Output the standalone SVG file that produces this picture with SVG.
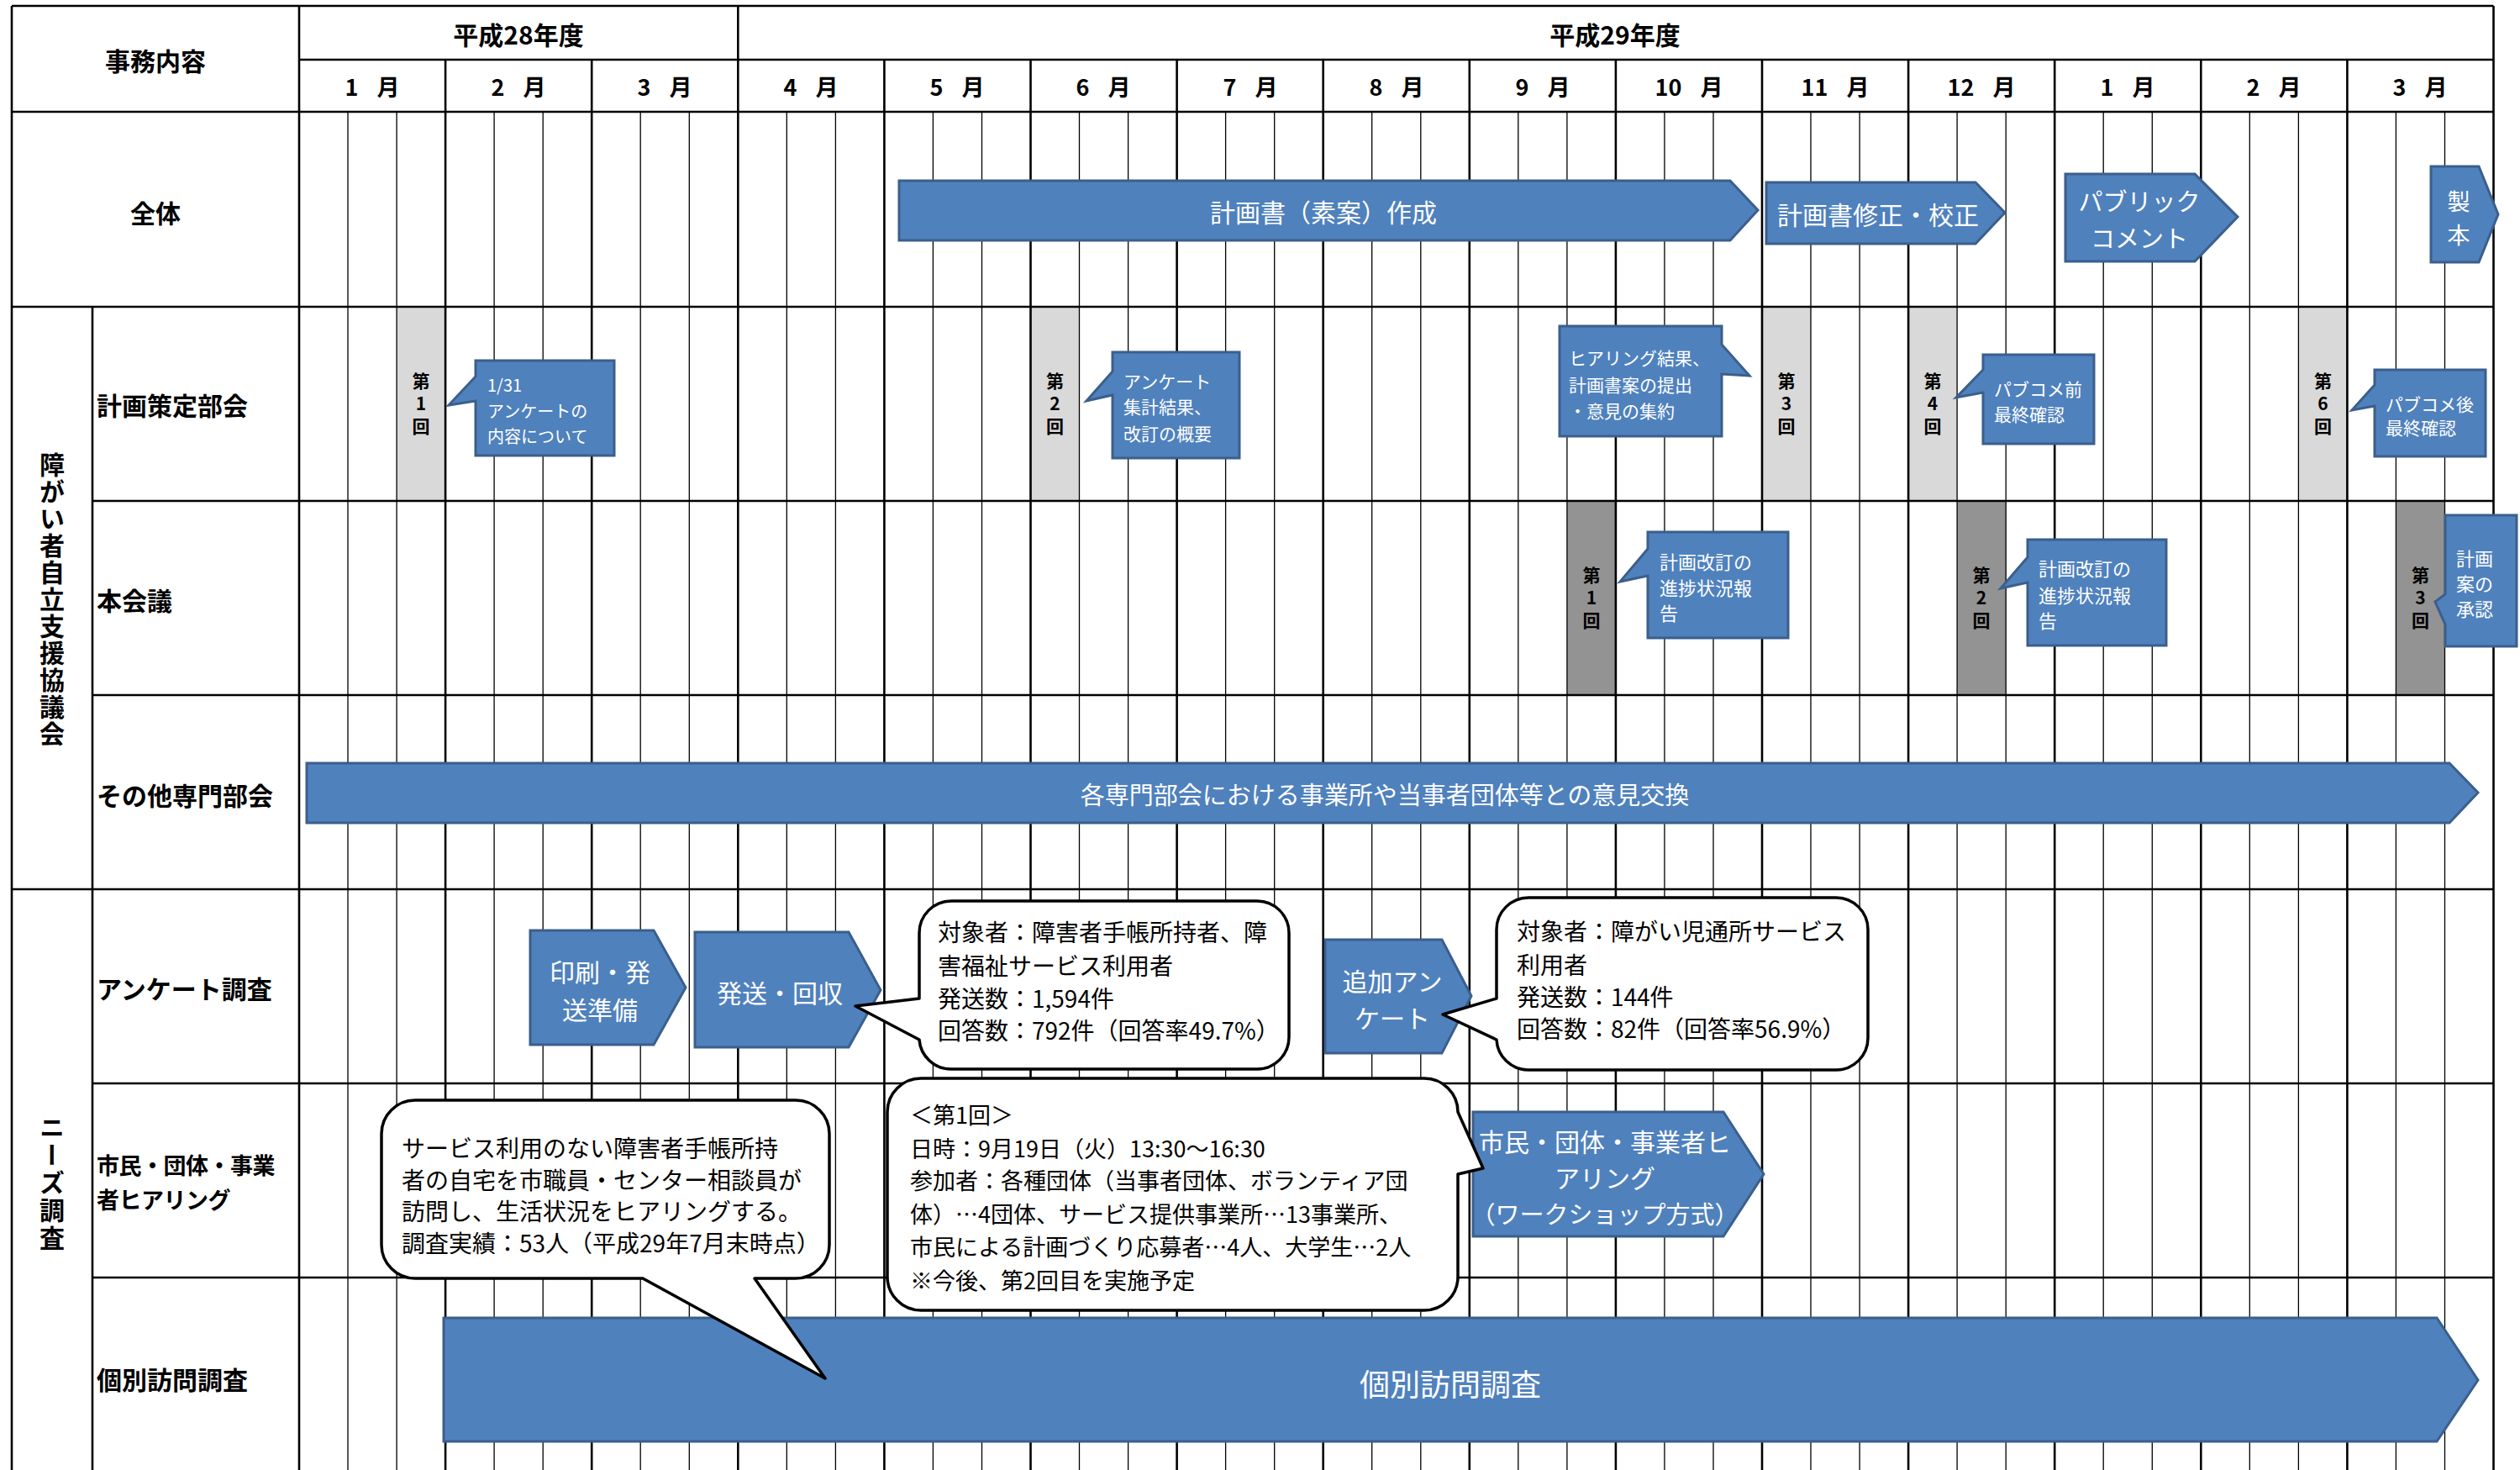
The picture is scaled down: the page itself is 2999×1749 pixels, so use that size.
<svg xmlns="http://www.w3.org/2000/svg" width="2999" height="1749" viewBox="0 0 2999 1749">
<defs><style>
text{font-family:"Noto Sans CJK JP","Noto Sans CJK SC",sans-serif;dominant-baseline:central}
.b{font-weight:bold;fill:#000}
.w{fill:#fff}
.k{fill:#000}
.m{text-anchor:middle}
.v{writing-mode:vertical-rl;text-orientation:upright;text-anchor:middle;font-weight:bold;fill:#000;font-size:21px;letter-spacing:6px}
.bar{fill:#4f81bd;stroke:#3b5f8c;stroke-width:3}
.rc{fill:#fff;stroke:#000;stroke-width:3.5;stroke-linejoin:round}
.lg{fill:#d9d9d9}
.dg{fill:#939393}
.sub{stroke:#000;stroke-width:1.3;fill:none}
.main{stroke:#000;stroke-width:2.6;fill:none}
</style></defs>
<rect x="0" y="0" width="2999" height="1749" fill="#fff"/>

<g id="session-cells">
<rect class="lg" x="472.1" y="365" width="58" height="231"/>
<rect class="lg" x="1226.5" y="365" width="58" height="231"/>
<rect class="lg" x="2097" y="365" width="58" height="231"/>
<rect class="lg" x="2271.1" y="365" width="58" height="231"/>
<rect class="lg" x="2735.4" y="365" width="58" height="231"/>
<rect class="dg" x="1864.9" y="596" width="58" height="231"/>
<rect class="dg" x="2329.1" y="596" width="58" height="231"/>
<rect class="dg" x="2851.4" y="596" width="58" height="231"/>
</g>

<g id="grid">
<path class="sub" d="M414,133V1749M472.1,133V1749M588.1,133V1749M646.2,133V1749M762.2,133V1749M820.3,133V1749M936.3,133V1749M994.4,133V1749M1110.4,133V1749M1168.5,133V1749M1284.5,133V1749M1342.6,133V1749M1458.6,133V1749M1516.7,133V1749M1632.7,133V1749M1690.8,133V1749M1806.8,133V1749M1864.9,133V1749M1980.9,133V1749M2039,133V1749M2155,133V1749M2213.1,133V1749M2329.1,133V1749M2387.2,133V1749M2503.2,133V1749M2561.3,133V1749M2677.3,133V1749M2735.4,133V1749M2851.4,133V1749M2909.5,133V1749"/>
<path class="main" d="M530.1,71V1749M704.2,71V1749M1052.4,71V1749M1226.5,71V1749M1400.6,71V1749M1574.7,71V1749M1748.8,71V1749M1922.9,71V1749M2097,71V1749M2271.1,71V1749M2445.2,71V1749M2619.3,71V1749M2793.4,71V1749"/>
<path class="main" d="M14,7V1749M110,365V1749M356,7V1749M878.3,7V1749M2967.5,7V1749"/>
<path class="main" d="M14,7H2967.5M356,71H2967.5M14,133H2967.5M14,365H2967.5M110,596H2967.5M110,827H2967.5M14,1058H2967.5M110,1289H2967.5M110,1520H2967.5"/>
</g>

<g id="header">
<text class="b m" x="185" y="71" font-size="30">事務内容</text>
<text class="b m" x="617" y="40" font-size="30">平成28年度</text>
<text class="b m" x="1922" y="40" font-size="30">平成29年度</text>
<g class="b m" font-size="27" word-spacing="16">
<text class="b m" x="443" y="102">1 月</text>
<text class="b m" x="617" y="102">2 月</text>
<text class="b m" x="791" y="102">3 月</text>
<text class="b m" x="965" y="102">4 月</text>
<text class="b m" x="1139" y="102">5 月</text>
<text class="b m" x="1313" y="102">6 月</text>
<text class="b m" x="1488" y="102">7 月</text>
<text class="b m" x="1662" y="102">8 月</text>
<text class="b m" x="1836" y="102">9 月</text>
<text class="b m" x="2010" y="102">10 月</text>
<text class="b m" x="2184" y="102">11 月</text>
<text class="b m" x="2358" y="102">12 月</text>
<text class="b m" x="2532" y="102">1 月</text>
<text class="b m" x="2706" y="102">2 月</text>
<text class="b m" x="2880" y="102">3 月</text>
</g>
</g>

<g id="row-labels" font-size="30">
<text class="b m" x="185" y="252">全体</text>
<text class="b m" x="62" y="714" writing-mode="vertical-rl" letter-spacing="2">障がい者自立支援協議会</text>
<text class="b" x="115" y="481">計画策定部会</text>
<text class="b" x="115" y="713">本会議</text>
<text class="b" x="115" y="945">その他専門部会</text>
<text class="b m" x="62" y="1408" writing-mode="vertical-rl" letter-spacing="3">ニーズ調査</text>
<text class="b" x="115" y="1175">アンケート調査</text>
<text class="b" x="115" y="1385" font-size="27" letter-spacing="-0.5">市民・団体・事業</text>
<text class="b" x="115" y="1426" font-size="27" letter-spacing="-0.5">者ヒアリング</text>
<text class="b" x="115" y="1640">個別訪問調査</text>
</g>

<g id="session-labels">
<text class="v" x="501" y="483">第1回</text>
<text class="v" x="1255.5" y="483">第2回</text>
<text class="v" x="2126" y="483">第3回</text>
<text class="v" x="2300" y="483">第4回</text>
<text class="v" x="2764.4" y="483">第6回</text>
<text class="v" x="1894" y="714">第1回</text>
<text class="v" x="2358" y="714">第2回</text>
<text class="v" x="2880.4" y="714">第3回</text>
</g>

<g id="node-keikakusho">
<path class="bar" d="M1070,215H2059L2092,250L2059,286H1070Z"/>
<text class="w m" x="1575" y="251" font-size="30">計画書（素案）作成</text>
</g>
<g id="node-shusei">
<path class="bar" d="M2102,217H2351L2386,253L2351,290H2102Z"/>
<text class="w m" x="2235" y="254" font-size="30">計画書修正・校正</text>
</g>
<g id="node-pubcom">
<path class="bar" d="M2458,207H2612L2663,258L2612,311H2458Z"/>
<text class="w m" x="2546" y="238" font-size="29">パブリック</text>
<text class="w m" x="2546" y="282" font-size="29">コメント</text>
</g>
<g id="node-seihon">
<path class="bar" d="M2893,198H2950L2973,255L2950,312H2893Z"/>
<text class="w m" x="2926" y="238" font-size="27">製</text>
<text class="w m" x="2926" y="278" font-size="27">本</text>
</g>

<g id="node-bukai1" font-size="20">
<path class="bar" d="M566,429H731V542H566V477L534,482L566,448Z"/>
<text class="w" x="580" y="457">1/31</text>
<text class="w" x="580" y="488">アンケートの</text>
<text class="w" x="580" y="518">内容について</text>
</g>
<g id="node-bukai2" font-size="21">
<path class="bar" d="M1324,419H1475V545H1324V470L1293,477L1324,442Z"/>
<text class="w" x="1337" y="453">アンケート</text>
<text class="w" x="1337" y="483">集計結果、</text>
<text class="w" x="1337" y="515">改訂の概要</text>
</g>
<g id="node-hearing-result" font-size="21">
<path class="bar" d="M1856,388H2049V410L2082,447L2049,445V519H1856Z"/>
<text class="w" x="1867" y="425">ヒアリング結果、</text>
<text class="w" x="1867" y="457">計画書案の提出</text>
<text class="w" x="1867" y="488">・意見の集約</text>
</g>
<g id="node-bukai4" font-size="21">
<path class="bar" d="M2360,422H2492V528H2360V467L2328,473L2360,440Z"/>
<text class="w" x="2373" y="462">パブコメ前</text>
<text class="w" x="2373" y="492">最終確認</text>
</g>
<g id="node-bukai6" font-size="21">
<path class="bar" d="M2826,440H2958V543H2826V483L2799,488L2826,458Z"/>
<text class="w" x="2839" y="480">パブコメ後</text>
<text class="w" x="2839" y="508">最終確認</text>
</g>

<g id="node-honkai1" font-size="22">
<path class="bar" d="M1961,633H2128V759H1961V685L1928,692L1961,653Z"/>
<text class="w" x="1975" y="667">計画改訂の</text>
<text class="w" x="1975" y="698">進捗状況報</text>
<text class="w" x="1975" y="728">告</text>
</g>
<g id="node-honkai2" font-size="22">
<path class="bar" d="M2413,642H2578V768H2413V693L2381,700L2413,663Z"/>
<text class="w" x="2426" y="675">計画改訂の</text>
<text class="w" x="2426" y="707">進捗状況報</text>
<text class="w" x="2426" y="737">告</text>
</g>
<g id="node-honkai3" font-size="22">
<path class="bar" d="M2910,613H2995V769H2910V743L2898,716L2910,707Z"/>
<text class="w" x="2923" y="663">計画</text>
<text class="w" x="2923" y="693">案の</text>
<text class="w" x="2923" y="723">承認</text>
</g>

<g id="node-sonota">
<path class="bar" d="M365,908H2915L2949,943L2915,979H365Z"/>
<text class="w m" x="1648" y="944" font-size="29">各専門部会における事業所や当事者団体等との意見交換</text>
</g>

<g id="node-insatsu" font-size="30">
<path class="bar" d="M631,1107H778L816,1175L778,1243H631Z"/>
<text class="w m" x="714" y="1155">印刷・発</text>
<text class="w m" x="714" y="1200">送準備</text>
</g>
<g id="node-hassou" font-size="30">
<path class="bar" d="M827,1109H1010L1048,1178L1010,1246H827Z"/>
<text class="w m" x="928" y="1180">発送・回収</text>
</g>
<g id="node-tsuika" font-size="30">
<path class="bar" d="M1577,1118H1716L1751,1185L1716,1253H1577Z"/>
<text class="w m" x="1657" y="1166">追加アン</text>
<text class="w m" x="1657" y="1210">ケート</text>
</g>

<g id="node-survey1" font-size="28">
<path class="rc" d="M1132,1072H1496A38,38 0 0 1 1534,1110V1234A38,38 0 0 1 1496,1272H1132A38,38 0 0 1 1094,1237L1018,1197L1094,1188V1110A38,38 0 0 1 1132,1072Z"/>
<text class="k" x="1116" y="1108">対象者：障害者手帳所持者、障</text>
<text class="k" x="1116" y="1148">害福祉サービス利用者</text>
<text class="k" x="1116" y="1187">発送数：1,594件</text>
<text class="k" x="1116" y="1225">回答数：792件（回答率49.7%）</text>
</g>
<g id="node-survey2" font-size="28">
<path class="rc" d="M1819,1068H2185A38,38 0 0 1 2223,1106V1235A38,38 0 0 1 2185,1273H1819A38,38 0 0 1 1781,1237L1717,1207L1781,1188V1106A38,38 0 0 1 1819,1068Z"/>
<text class="k" x="1805" y="1107">対象者：障がい児通所サービス</text>
<text class="k" x="1805" y="1147">利用者</text>
<text class="k" x="1805" y="1185">発送数：144件</text>
<text class="k" x="1805" y="1223">回答数：82件（回答率56.9%）</text>
</g>

<g id="node-hearing">
<path class="bar" d="M1753,1323H2051L2099,1397L2051,1471H1753Z"/>
<text class="w m" x="1910" y="1357" font-size="30">市民・団体・事業者ヒ</text>
<text class="w m" x="1910" y="1400" font-size="30">アリング</text>
<text class="w m" x="1910" y="1443" font-size="29">（ワークショップ方式）</text>
</g>

<g id="node-kobetsu">
<path class="bar" d="M528,1568H2900L2949,1642L2900,1715H528Z"/>
<text class="w m" x="1726" y="1645" font-size="36">個別訪問調査</text>
</g>

<g id="node-workshop-note" font-size="27">
<path class="rc" d="M1096,1283H1695A40,40 0 0 1 1735,1323L1765,1390L1735,1397V1519A40,40 0 0 1 1695,1559H1096A40,40 0 0 1 1056,1519V1323A40,40 0 0 1 1096,1283Z"/>
<text class="k" x="1083" y="1325">＜第1回＞</text>
<text class="k" x="1083" y="1365">日時：9月19日（火）13:30～16:30</text>
<text class="k" x="1083" y="1403">参加者：各種団体（当事者団体、ボランティア団</text>
<text class="k" x="1083" y="1443">体）…4団体、サービス提供事業所…13事業所、</text>
<text class="k" x="1083" y="1482">市民による計画づくり応募者…4人、大学生…2人</text>
<text class="k" x="1083" y="1522">※今後、第2回目を実施予定</text>
</g>

<g id="node-visit-note" font-size="28">
<path class="rc" d="M494,1309H947A40,40 0 0 1 987,1349V1481A40,40 0 0 1 947,1521H898L982,1640L765,1521H494A40,40 0 0 1 454,1481V1349A40,40 0 0 1 494,1309Z"/>
<text class="k" x="478" y="1365">サービス利用のない障害者手帳所持</text>
<text class="k" x="478" y="1403">者の自宅を市職員・センター相談員が</text>
<text class="k" x="478" y="1440">訪問し、生活状況をヒアリングする。</text>
<text class="k" x="478" y="1478">調査実績：53人（平成29年7月末時点）</text>
</g>
</svg>
